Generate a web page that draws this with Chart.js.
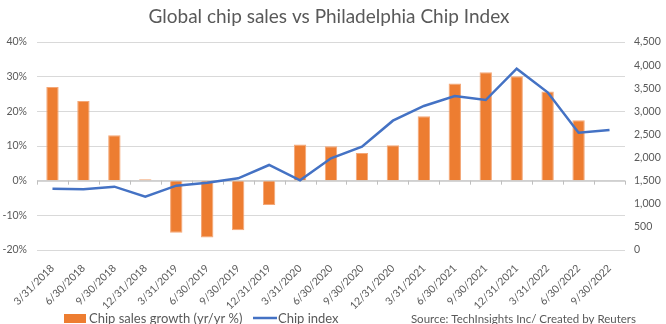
<!DOCTYPE html>
<html>
<head>
<meta charset="utf-8">
<script src="https://cdn.jsdelivr.net/npm/chart.js@4/dist/chart.umd.min.js"></script>
<style>
  html, body { margin: 0; padding: 0; background: #fff; }
  #wrap { width: 666px; height: 324px; position: relative; }
</style>
</head>
<body>
<div id="wrap"><canvas id="chip"></canvas></div>
<script>
const TITLE = 'Global chip sales vs Philadelphia Chip Index'
const SOURCE = 'Source: TechInsights Inc/ Created by Reuters'

const quarters = ['3/31/2018', '6/30/2018', '9/30/2018', '12/31/2018',
    '3/31/2019', '6/30/2019', '9/30/2019', '12/31/2019',
    '3/31/2020', '6/30/2020', '9/30/2020', '12/31/2020',
    '3/31/2021', '6/30/2021', '9/30/2021', '12/31/2021',
    '3/31/2022', '6/30/2022', '9/30/2022']

// yr/yr growth, percent
const salesGrowth = [27.0, 23.0, 13.1, 0.4, -15.0, -16.4, -14.3, -7.0,
    10.4, 9.9, 8.0, 10.2, 18.6, 28.0, 31.3, 30.1, 25.7, 17.4, null]

// Philadelphia semiconductor index
const chipIndex = [1326, 1313, 1370, 1153, 1392, 1457, 1551, 1839,
    1507, 1984, 2235, 2798, 3116, 3332, 3245, 3923, 3412, 2538, 2596]

const ORANGE = '#ED7D31'
const BLUE = '#4472C4'
const GREY = '#595959'
const FONT = "Lato, 'Open Sans', sans-serif"

// title, legend, source note and the tick marks on the 0% line
const extras = {
    id: 'extras',
    beforeDatasetsDraw(chart) {
        const ctx = chart.ctx
        const zero = chart.scales.y.getPixelForValue(0)
        const area = chart.chartArea
        ctx.save()
        ctx.strokeStyle = '#BFBFBF'
        ctx.lineWidth = 1
        ctx.beginPath()
        ctx.moveTo(area.left, zero + 0.5)
        ctx.lineTo(area.right, zero + 0.5)
        for (let i = 0; i <= quarters.length; i++) {
            const px = Math.round(area.left + i * (area.right - area.left) / quarters.length) + 0.5
            ctx.moveTo(px, zero)
            ctx.lineTo(px, zero + 4)
        }
        ctx.stroke()
        ctx.restore()
    },
    afterDraw(chart) {
        const ctx = chart.ctx
        ctx.save()
        ctx.fillStyle = GREY
        ctx.textBaseline = 'middle'
        ctx.font = `19px ${FONT}`
        ctx.textAlign = 'center'
        ctx.fillText(TITLE, 329, 17)

        ctx.font = `13px ${FONT}`
        ctx.textAlign = 'left'
        ctx.fillStyle = ORANGE
        ctx.fillRect(64, 314, 22, 9)
        ctx.fillStyle = GREY
        ctx.fillText('Chip sales growth (yr/yr %)', 89, 319)
        ctx.strokeStyle = BLUE
        ctx.lineWidth = 2.5
        ctx.beginPath()
        ctx.moveTo(253, 318)
        ctx.lineTo(277, 318)
        ctx.stroke()
        ctx.fillText('Chip index', 278, 319)

        ctx.font = `11.5px ${FONT}`
        ctx.textAlign = 'right'
        ctx.fillText(SOURCE, 636, 319)
        ctx.restore()
    }
}

new Chart(document.getElementById('chip'), {
    data: {
        labels: quarters,
        datasets: [{
            type: 'line',
            label: 'Chip index',
            data: chipIndex,
            yAxisID: 'y1',
            borderColor: BLUE,
            borderWidth: 2.5,
            pointRadius: 0,
            tension: 0,
            order: 0
        }, {
            type: 'bar',
            label: 'Chip sales growth (yr/yr %)',
            data: salesGrowth,
            yAxisID: 'y',
            backgroundColor: ORANGE,
            borderColor: '#F4A777',
            borderWidth: 1,
            categoryPercentage: 1,
            barPercentage: 0.4,
            order: 1
        }]
    },
    options: {
        responsive: true,
        maintainAspectRatio: false,
        animation: false,
        layout: { padding: { top: 42, left: 0, right: 0, bottom: 0 } },
        plugins: {
            legend: { display: false },
            title: { display: false },
            tooltip: { enabled: false }
        },
        scales: {
            x: {
                offset: true,
                grid: { display: false },
                border: { display: false },
                ticks: {
                    color: GREY,
                    font: { family: FONT, size: 10.5 },
                    minRotation: 45,
                    maxRotation: 45,
                    autoSkip: false,
                    padding: 4
                },
                afterFit: (s) => { s.height = 74 }
            },
            y: {
                position: 'left',
                min: -20,
                max: 40,
                grid: { color: '#D9D9D9', drawTicks: false },
                border: { display: false },
                ticks: {
                    stepSize: 10,
                    color: GREY,
                    font: { family: FONT, size: 10.5 },
                    padding: 10,
                    callback: (v) => v + '%'
                },
                afterFit: (s) => { s.width = 37 }
            },
            y1: {
                position: 'right',
                min: 0,
                max: 4500,
                grid: { display: false, drawTicks: false },
                border: { display: false },
                ticks: {
                    stepSize: 500,
                    color: GREY,
                    font: { family: FONT, size: 10.5 },
                    padding: 9,
                    callback: (v) => v.toLocaleString('en-US')
                },
                afterFit: (s) => { s.width = 41 }
            }
        }
    },
    plugins: [extras]
});
</script>
</body>
</html>
